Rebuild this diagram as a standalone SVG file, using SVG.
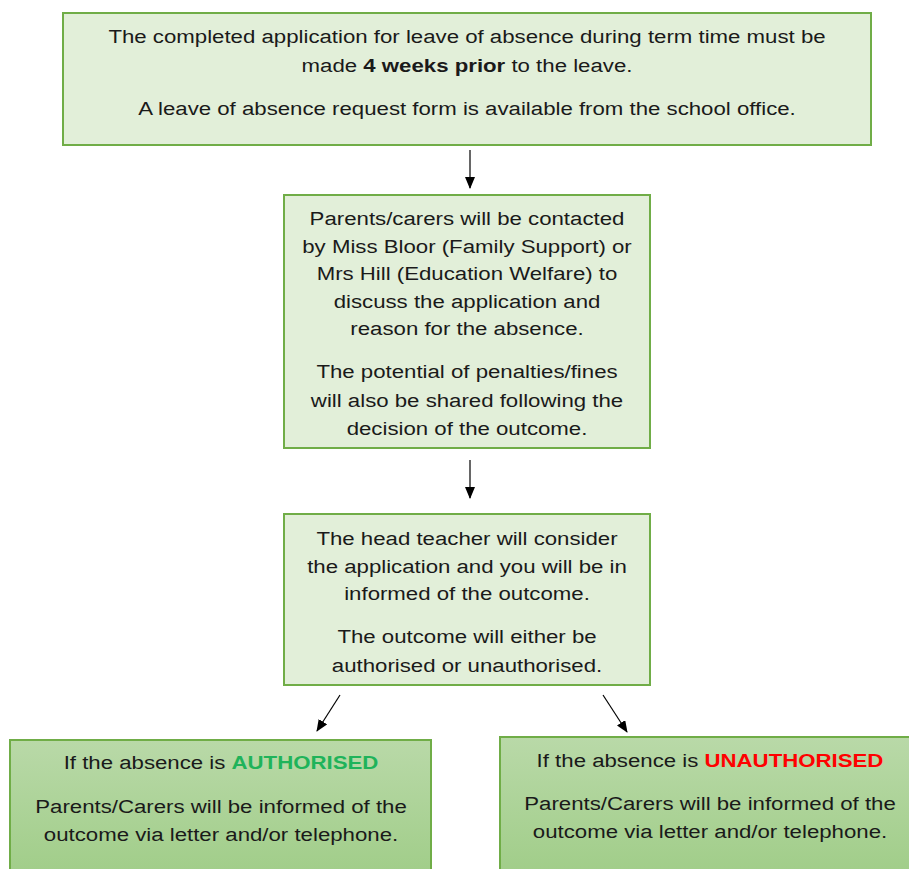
<svg xmlns="http://www.w3.org/2000/svg" width="909" height="869" viewBox="0 0 909 869">
<style>
.box{fill:#e2efd9;stroke:#70ad47;stroke-width:2}
.gbox{fill:url(#g);stroke:#70ad47;stroke-width:2}
text{font-family:"Liberation Sans",Arial,sans-serif;font-size:19px;fill:#1a1a1a;text-anchor:middle}
.b{font-weight:bold}
.conn{stroke:#000;stroke-width:1.2;fill:none;marker-end:url(#ah)}
</style>
<defs>
<linearGradient id="g" x1="0" y1="0" x2="0" y2="1">
<stop offset="0" stop-color="#b9d9a8"/>
<stop offset="1" stop-color="#9ccb83"/>
</linearGradient>
<marker id="ah" viewBox="0 0 12 10" refX="11" refY="5" markerWidth="12" markerHeight="10" markerUnits="userSpaceOnUse" orient="auto">
<path d="M0,0 L12,5 L0,10 z" fill="#000"/>
</marker>
</defs>
<g id="connectors">
<line class="conn" x1="470" y1="150" x2="470" y2="188"/>
<line class="conn" x1="470" y1="460" x2="470" y2="498"/>
<line class="conn" x1="340" y1="695" x2="317" y2="731"/>
<line class="conn" x1="603" y1="695" x2="627" y2="732"/>
</g>
<g id="n1">
<rect class="box" x="63" y="13" width="808" height="132"/>
<g transform="translate(467,0) scale(1.17,1)">
<text x="0" y="43">The completed application for leave of absence during term time must be</text>
<text x="0" y="72">made <tspan class="b">4 weeks prior</tspan> to the leave.</text>
<text x="0" y="115">A leave of absence request form is available from the school office.</text>
</g>
</g>
<g id="n2">
<rect class="box" x="284" y="195" width="366" height="253"/>
<g transform="translate(467,0) scale(1.17,1)">
<text x="0" y="225">Parents/carers will be contacted</text>
<text x="0" y="253">by Miss Bloor (Family Support) or</text>
<text x="0" y="280">Mrs Hill (Education Welfare) to</text>
<text x="0" y="308">discuss the application and</text>
<text x="0" y="335">reason for the absence.</text>
<text x="0" y="378">The potential of penalties/fines</text>
<text x="0" y="407">will also be shared following the</text>
<text x="0" y="435">decision of the outcome.</text>
</g>
</g>
<g id="n3">
<rect class="box" x="284" y="514" width="366" height="171"/>
<g transform="translate(467,0) scale(1.17,1)">
<text x="0" y="545">The head teacher will consider</text>
<text x="0" y="573">the application and you will be in</text>
<text x="0" y="600">informed of the outcome.</text>
<text x="0" y="643">The outcome will either be</text>
<text x="0" y="672">authorised or unauthorised.</text>
</g>
</g>
<g id="n4">
<rect class="gbox" x="10" y="740" width="421" height="160"/>
<g transform="translate(221,0) scale(1.17,1)">
<text x="0" y="769">If the absence is <tspan class="b" fill="#1fb35a">AUTHORISED</tspan></text>
<text x="0" y="813">Parents/Carers will be informed of the</text>
<text x="0" y="841">outcome via letter and/or telephone.</text>
</g>
</g>
<g id="n5">
<rect class="gbox" x="500" y="737" width="420" height="163"/>
<g transform="translate(710,0) scale(1.17,1)">
<text x="0" y="767">If the absence is <tspan class="b" fill="#ff0000">UNAUTHORISED</tspan></text>
<text x="0" y="810">Parents/Carers will be informed of the</text>
<text x="0" y="838">outcome via letter and/or telephone.</text>
</g>
</g>
</svg>
